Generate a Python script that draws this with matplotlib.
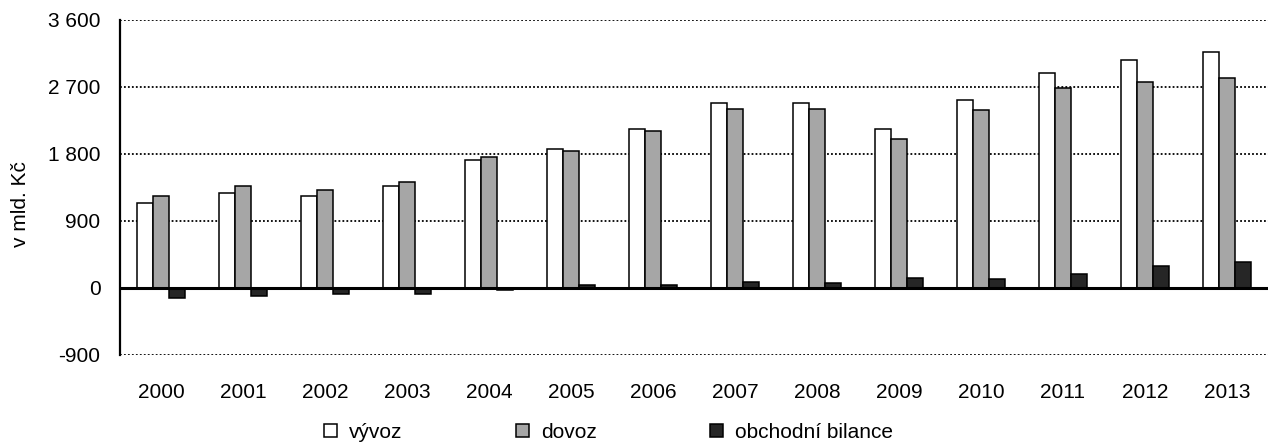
import numpy as np
import matplotlib.pyplot as plt
from matplotlib.patches import Patch

plt.rcParams['font.family'] = ['Liberation Sans', 'DejaVu Sans']

years = ['2000', '2001', '2002', '2003', '2004', '2005', '2006',
         '2007', '2008', '2009', '2010', '2011', '2012', '2013']
vyvoz = [1137, 1271, 1240, 1374, 1720, 1867, 2137,
         2488, 2488, 2137, 2525, 2883, 3062, 3174]
dovoz = [1235, 1374, 1316, 1424, 1755, 1840, 2110,
         2407, 2407, 2000, 2390, 2690, 2771, 2824]
bilance = [-139, -110, -80, -75, -25, 35, 35,
           85, 62, 135, 125, 188, 295, 353]

yticks = [-900, 0, 900, 1800, 2700, 3600]
yticklabels = ['-900', '0', '900', '1 800', '2 700', '3 600']

fig = plt.figure(figsize=(12.71, 4.44), dpi=100)
ax = fig.add_axes([0.0944, 0.2005, 0.9032, 0.7545])

x = np.arange(len(years))
w = 0.195
kw = dict(width=w, edgecolor='black', linewidth=1.1, zorder=3)
ax.bar(x - w, vyvoz, color='white', **kw)
ax.bar(x, dovoz, color='#a6a6a6', **kw)
ax.bar(x + w, bilance, color='#262626', **kw)

ax.set_xlim(-0.5, len(years) - 0.5)
ax.set_ylim(-900, 3600)
ax.set_yticks(yticks)
ax.set_yticklabels(yticklabels)
ax.set_xticks(x)
ax.set_xticklabels(years)
ax.tick_params(axis='both', length=0, labelsize=15, colors='black')
ax.tick_params(axis='x', pad=20)
ax.tick_params(axis='y', pad=14)

for y in yticks:
    if y != 0:
        ax.axhline(y, color='black', linestyle=(0, (1, 1.2)), linewidth=1.3, zorder=1)
ax.axhline(0, color='black', linewidth=2.2, zorder=4)

for s in ['top', 'right', 'bottom']:
    ax.spines[s].set_visible(False)
ax.spines['left'].set_linewidth(1.6)

ax.set_ylabel('v mld. Kč', fontsize=15)
ax.yaxis.set_label_coords(-0.078, 0.45)

handles = [Patch(facecolor='white', edgecolor='black', linewidth=1.1),
           Patch(facecolor='#a6a6a6', edgecolor='black', linewidth=1.1),
           Patch(facecolor='#262626', edgecolor='black', linewidth=1.1)]
fig.legend(handles, ['vývoz', 'dovoz', 'obchodní bilance'], ncol=3,
           loc='center', bbox_to_anchor=(0.479, 0.027), frameon=False,
           fontsize=15, handlelength=0.6, handleheight=0.6,
           handletextpad=0.6, columnspacing=5.45)

fig.savefig('out.png', dpi=100)
